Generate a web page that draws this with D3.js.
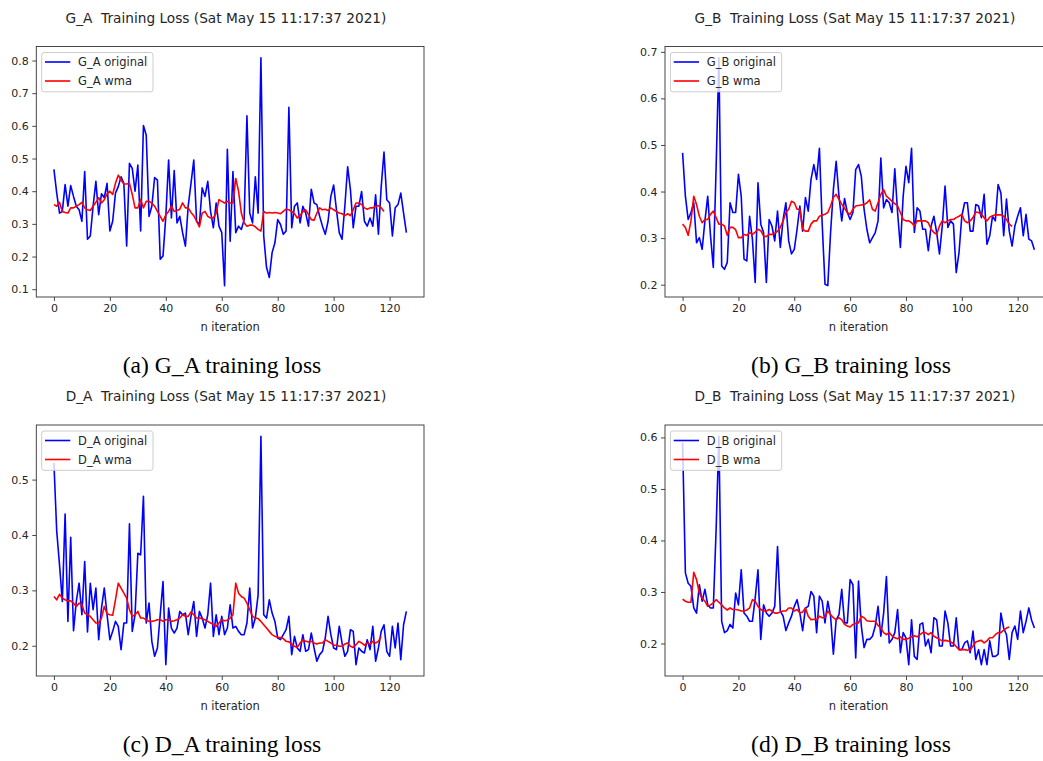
<!DOCTYPE html>
<html>
<head>
<meta charset="utf-8">
<script src="https://cdn.jsdelivr.net/npm/d3@7"></script>
<style>
  html, body { margin: 0; padding: 0; background: #fff; }
  svg { display: block; }
  text.pre { white-space: pre; }
</style>
</head>
<body>
<svg id="chart" width="1043" height="761"></svg>
<script>
// ---------------- DATA ----------------
const xTicks = [0, 20, 40, 60, 80, 100, 120];

const titleGA = "G_A  Training Loss (Sat May 15 11:17:37 2021)";
const titleGB = "G_B  Training Loss (Sat May 15 11:17:37 2021)";
const titleDA = "D_A  Training Loss (Sat May 15 11:17:37 2021)";
const titleDB = "D_B  Training Loss (Sat May 15 11:17:37 2021)";

const captionGA = "(a) G_A training loss";
const captionGB = "(b) G_B training loss";
const captionDA = "(c) D_A training loss";
const captionDB = "(d) D_B training loss";

const legendGA = ["G_A original", "G_A wma"];
const legendGB = ["G_B original", "G_B wma"];
const legendDA = ["D_A original", "D_A wma"];
const legendDB = ["D_B original", "D_B wma"];

const yTicksGA = [0.1, 0.2, 0.3, 0.4, 0.5, 0.6, 0.7, 0.8];
const yTicksGB = [0.2, 0.3, 0.4, 0.5, 0.6, 0.7];
const yTicksDA = [0.2, 0.3, 0.4, 0.5];
const yTicksDB = [0.2, 0.3, 0.4, 0.5, 0.6];

const xLabel = "n iteration";

const gaOriginal = [
  0.467, 0.394, 0.333, 0.338, 0.42, 0.354, 0.417, 0.384, 0.354, 0.343,
  0.308, 0.46, 0.253, 0.263, 0.354, 0.43, 0.328, 0.392, 0.38, 0.424,
  0.278, 0.308, 0.394, 0.414, 0.444, 0.424, 0.232, 0.485, 0.47, 0.4,
  0.48, 0.278, 0.601, 0.571, 0.323, 0.354, 0.442, 0.434, 0.192, 0.202,
  0.323, 0.495, 0.318, 0.463, 0.303, 0.323, 0.273, 0.232, 0.354, 0.424,
  0.495, 0.308, 0.298, 0.41, 0.384, 0.43, 0.338, 0.288, 0.364, 0.293,
  0.273, 0.111, 0.528, 0.247, 0.46, 0.273, 0.293, 0.283, 0.313, 0.631,
  0.333, 0.303, 0.444, 0.333, 0.808, 0.263, 0.167, 0.136, 0.212, 0.242,
  0.313, 0.298, 0.268, 0.278, 0.657, 0.288, 0.354, 0.364, 0.303, 0.354,
  0.333, 0.293, 0.406, 0.364, 0.359, 0.323, 0.293, 0.268, 0.308, 0.384,
  0.419, 0.343, 0.273, 0.253, 0.354, 0.475, 0.404, 0.288, 0.354, 0.354,
  0.399, 0.308, 0.293, 0.318, 0.293, 0.389, 0.268, 0.414, 0.52, 0.374,
  0.364, 0.263, 0.349, 0.359, 0.394, 0.333, 0.273
];
const gaWma = [
  0.359, 0.354, 0.366, 0.338, 0.335, 0.333, 0.349, 0.349, 0.354, 0.359,
  0.366, 0.349, 0.343, 0.341, 0.354, 0.366, 0.38, 0.364, 0.374, 0.392,
  0.4, 0.39, 0.424, 0.449, 0.434, 0.422, 0.422, 0.424, 0.39, 0.349,
  0.349, 0.374, 0.349, 0.369, 0.369, 0.364, 0.354, 0.338, 0.323, 0.308,
  0.328, 0.338, 0.354, 0.338, 0.341, 0.345, 0.364, 0.349, 0.349, 0.335,
  0.325, 0.308, 0.291, 0.333, 0.338, 0.323, 0.318, 0.318, 0.333, 0.374,
  0.369, 0.364, 0.369, 0.364, 0.364, 0.439, 0.4, 0.333, 0.303, 0.293,
  0.296, 0.296, 0.291, 0.283, 0.278, 0.338, 0.333, 0.335, 0.333, 0.335,
  0.333, 0.331, 0.338, 0.345, 0.343, 0.338, 0.331, 0.318, 0.325, 0.338,
  0.343, 0.328, 0.313, 0.311, 0.333, 0.349, 0.343, 0.345, 0.341, 0.349,
  0.343, 0.338, 0.333, 0.331, 0.325, 0.331, 0.325, 0.343, 0.364, 0.364,
  0.359, 0.349, 0.345, 0.349, 0.349, 0.354, 0.356, 0.349, 0.338
];

const gbOriginal = [
  0.483, 0.39, 0.34, 0.355, 0.376, 0.29, 0.301, 0.276, 0.337, 0.39,
  0.305, 0.237, 0.45, 0.687, 0.24, 0.233, 0.248, 0.376, 0.355, 0.355,
  0.437, 0.39, 0.255, 0.251, 0.347, 0.298, 0.205, 0.419, 0.33, 0.312,
  0.205, 0.34, 0.326, 0.294, 0.358, 0.28, 0.34, 0.376, 0.294, 0.266,
  0.276, 0.319, 0.369, 0.315, 0.387, 0.358, 0.426, 0.458, 0.426, 0.493,
  0.33, 0.201, 0.198, 0.312, 0.404, 0.465, 0.39, 0.337, 0.385, 0.355,
  0.34, 0.355, 0.447, 0.458, 0.433, 0.362, 0.319, 0.29, 0.301, 0.312,
  0.337, 0.472, 0.365, 0.383, 0.376, 0.355, 0.449, 0.355, 0.28, 0.39,
  0.454, 0.419, 0.493, 0.312, 0.365, 0.358, 0.319, 0.319, 0.273, 0.326,
  0.347, 0.312, 0.266, 0.326, 0.412, 0.323, 0.337, 0.33, 0.226, 0.269,
  0.347, 0.376, 0.376, 0.315, 0.315, 0.372, 0.369, 0.344, 0.394, 0.287,
  0.305, 0.347, 0.337, 0.415, 0.397, 0.305, 0.384, 0.315, 0.283, 0.326,
  0.347, 0.365, 0.305, 0.351, 0.298, 0.294, 0.275
];
const gbWma = [
  0.33, 0.323, 0.306, 0.337, 0.39, 0.372, 0.347, 0.333, 0.34, 0.34,
  0.351, 0.358, 0.344, 0.33, 0.33, 0.326, 0.306, 0.323, 0.323, 0.318,
  0.301, 0.301, 0.308, 0.306, 0.312, 0.308, 0.313, 0.319, 0.316, 0.305,
  0.303, 0.308, 0.308, 0.31, 0.315, 0.323, 0.337, 0.355, 0.362, 0.379,
  0.376, 0.362, 0.362, 0.319, 0.315, 0.315, 0.33, 0.337, 0.337, 0.347,
  0.349, 0.351, 0.355, 0.369, 0.387, 0.394, 0.383, 0.373, 0.364, 0.355,
  0.351, 0.362, 0.369, 0.37, 0.371, 0.372, 0.376, 0.382, 0.362, 0.358,
  0.376, 0.394, 0.404, 0.39, 0.385, 0.379, 0.374, 0.369, 0.355, 0.34,
  0.337, 0.337, 0.333, 0.326, 0.337, 0.337, 0.337, 0.337, 0.333, 0.319,
  0.312, 0.308, 0.326, 0.337, 0.333, 0.337, 0.34, 0.34, 0.344, 0.347,
  0.351, 0.337, 0.333, 0.337, 0.344, 0.356, 0.355, 0.351, 0.344, 0.337,
  0.345, 0.348, 0.35, 0.35, 0.35, 0.347, 0.34, 0.33, 0.325
];

const daOriginal = [
  0.53, 0.407, 0.346, 0.28, 0.438, 0.244, 0.396, 0.227, 0.28, 0.313,
  0.256, 0.352, 0.225, 0.313, 0.265, 0.304, 0.211, 0.268, 0.304, 0.256,
  0.211, 0.226, 0.244, 0.235, 0.193, 0.241, 0.241, 0.42, 0.226, 0.256,
  0.367, 0.364, 0.47, 0.241, 0.277, 0.208, 0.181, 0.196, 0.256, 0.316,
  0.166, 0.268, 0.232, 0.223, 0.232, 0.262, 0.256, 0.259, 0.22, 0.253,
  0.28, 0.217, 0.262, 0.25, 0.232, 0.256, 0.313, 0.217, 0.256, 0.22,
  0.253, 0.22, 0.232, 0.274, 0.232, 0.235, 0.226, 0.22, 0.22, 0.241,
  0.304, 0.232, 0.25, 0.292, 0.578, 0.256, 0.25, 0.283, 0.259, 0.244,
  0.214, 0.211, 0.22, 0.229, 0.253, 0.184, 0.217, 0.196, 0.19, 0.22,
  0.19, 0.193, 0.223, 0.196, 0.172, 0.184, 0.19, 0.214, 0.253, 0.22,
  0.196, 0.193, 0.235, 0.205, 0.181, 0.19, 0.229, 0.226, 0.166, 0.196,
  0.19, 0.187, 0.211, 0.193, 0.235, 0.172, 0.196, 0.226, 0.238, 0.19,
  0.181, 0.235, 0.196, 0.241, 0.175, 0.238, 0.262
];
const daWma = [
  0.289, 0.283, 0.293, 0.286, 0.283, 0.281, 0.281, 0.277, 0.271, 0.277,
  0.274, 0.259, 0.256, 0.253, 0.247, 0.241, 0.241, 0.25, 0.271, 0.258,
  0.256, 0.255, 0.283, 0.313, 0.304, 0.295, 0.286, 0.265, 0.253, 0.256,
  0.262, 0.25, 0.25, 0.247, 0.244, 0.244, 0.245, 0.247, 0.247, 0.244,
  0.247, 0.247, 0.244, 0.245, 0.247, 0.25, 0.256, 0.253, 0.253, 0.261,
  0.256, 0.25, 0.25, 0.249, 0.247, 0.244, 0.241, 0.239, 0.235, 0.241,
  0.247, 0.245, 0.246, 0.25, 0.256, 0.313, 0.295, 0.289, 0.286, 0.277,
  0.265, 0.253, 0.25, 0.249, 0.244, 0.238, 0.232, 0.226, 0.22, 0.217,
  0.215, 0.215, 0.213, 0.208, 0.207, 0.203, 0.199, 0.197, 0.205, 0.211,
  0.208, 0.207, 0.208, 0.205, 0.203, 0.205, 0.205, 0.211, 0.208, 0.205,
  0.201, 0.201, 0.199, 0.199, 0.203, 0.205, 0.199, 0.197, 0.202, 0.208,
  0.205, 0.201, 0.205, 0.203, 0.208, 0.205, 0.208, 0.217
];

const dbOriginal = [
  0.59, 0.337, 0.317, 0.311, 0.269, 0.259, 0.314, 0.282, 0.305, 0.275,
  0.269, 0.269, 0.42, 0.602, 0.243, 0.221, 0.225, 0.237, 0.23, 0.298,
  0.275, 0.343, 0.259, 0.253, 0.243, 0.243, 0.288, 0.343, 0.208, 0.275,
  0.259, 0.253, 0.259, 0.272, 0.388, 0.263, 0.253, 0.225, 0.24, 0.253,
  0.272, 0.285, 0.259, 0.225, 0.269, 0.272, 0.301, 0.292, 0.221, 0.292,
  0.282, 0.24, 0.282, 0.253, 0.179, 0.246, 0.256, 0.305, 0.24, 0.24,
  0.324, 0.314, 0.172, 0.321, 0.234, 0.192, 0.208, 0.208, 0.214, 0.234,
  0.272, 0.214, 0.259, 0.33, 0.201, 0.208, 0.221, 0.266, 0.182, 0.221,
  0.211, 0.159, 0.246, 0.175, 0.169, 0.237, 0.24, 0.195, 0.208, 0.182,
  0.25, 0.246, 0.195, 0.195, 0.263, 0.24, 0.195, 0.195, 0.25, 0.188,
  0.188, 0.201, 0.205, 0.182, 0.224, 0.169, 0.188, 0.159, 0.188, 0.159,
  0.205, 0.175, 0.175, 0.179, 0.259, 0.23, 0.217, 0.169, 0.221, 0.234,
  0.208, 0.263, 0.221, 0.243, 0.269, 0.245, 0.23
];
const dbWma = [
  0.286, 0.282, 0.28, 0.28, 0.338, 0.324, 0.298, 0.288, 0.282, 0.272,
  0.275, 0.279, 0.285, 0.28, 0.275, 0.269, 0.265, 0.269, 0.266, 0.266,
  0.265, 0.263, 0.263, 0.265, 0.269, 0.285, 0.282, 0.272, 0.266, 0.263,
  0.263, 0.266, 0.263, 0.259, 0.259, 0.261, 0.263, 0.263, 0.269, 0.269,
  0.263, 0.266, 0.259, 0.261, 0.269, 0.253, 0.246, 0.247, 0.246, 0.253,
  0.25, 0.25, 0.263, 0.256, 0.25, 0.246, 0.25, 0.246, 0.237, 0.234,
  0.232, 0.237, 0.239, 0.24, 0.253, 0.25, 0.244, 0.243, 0.243, 0.243,
  0.235, 0.23, 0.221, 0.217, 0.221, 0.215, 0.211, 0.209, 0.213, 0.208,
  0.208, 0.21, 0.213, 0.215, 0.213, 0.217, 0.221, 0.221, 0.217, 0.221,
  0.214, 0.211, 0.208, 0.205, 0.206, 0.205, 0.203, 0.2, 0.194, 0.188,
  0.188, 0.188, 0.187, 0.188, 0.195, 0.203, 0.205, 0.206, 0.201, 0.205,
  0.211, 0.211, 0.217, 0.221, 0.221, 0.226, 0.23, 0.232
];

// ---------------- LAYOUT ----------------
const SANS = "'DejaVu Sans', sans-serif";
const SERIF = "'Liberation Serif', 'Times New Roman', serif";
const TXT = "#262626";

const panels = [
  { orig: gaOriginal, wma: gaWma, title: titleGA, legend: legendGA, yTicks: yTicksGA, caption: captionGA,
    left: 36.3, right: 424, top: 46.5, bottom: 297, titleX: 226, captionX: 222 },
  { orig: gbOriginal, wma: gbWma, title: titleGB, legend: legendGB, yTicks: yTicksGB, caption: captionGB,
    left: 665, right: 1052, top: 46.5, bottom: 297, titleX: 855, captionX: 851 },
  { orig: daOriginal, wma: daWma, title: titleDA, legend: legendDA, yTicks: yTicksDA, caption: captionDA,
    left: 36.3, right: 424, top: 425, bottom: 676, titleX: 226, captionX: 222 },
  { orig: dbOriginal, wma: dbWma, title: titleDB, legend: legendDB, yTicks: yTicksDB, caption: captionDB,
    left: 665, right: 1052, top: 425, bottom: 676, titleX: 855, captionX: 851 }
];

const svg = d3.select("#chart");

panels.forEach((p, k) => {
  const g = svg.append("g");
  const n = p.orig.length;
  const xPad = (n - 1) * 0.05;
  const x = d3.scaleLinear().domain([-xPad, (n - 1) + xPad]).range([p.left, p.right]);
  const all = p.orig.concat(p.wma);
  const ymin = d3.min(all), ymax = d3.max(all);
  const yPad = (ymax - ymin) * 0.05;
  const y = d3.scaleLinear().domain([ymin - yPad, ymax + yPad]).range([p.bottom, p.top]);

  const clipId = "clip" + k;
  g.append("clipPath").attr("id", clipId).append("rect")
    .attr("x", p.left).attr("y", p.top).attr("width", p.right - p.left).attr("height", p.bottom - p.top);

  const line = d3.line().x((d, i) => x(i)).y(d => y(d));

  const plot = g.append("g").attr("clip-path", `url(#${clipId})`);
  plot.append("path").datum(p.orig).attr("d", line)
    .attr("fill", "none").attr("stroke", "#0000ff").attr("stroke-width", 1.6).attr("stroke-linejoin", "round");
  plot.append("path").datum(p.wma).attr("d", line)
    .attr("fill", "none").attr("stroke", "#ff0000").attr("stroke-width", 1.6).attr("stroke-linejoin", "round");

  // axes
  const xAxis = d3.axisBottom(x).tickValues(xTicks).tickSizeOuter(0).tickSize(4).tickPadding(3.5);
  const gx = g.append("g").attr("transform", `translate(0,${p.bottom})`).call(xAxis);
  gx.select(".domain").remove();
  gx.selectAll("line").attr("stroke", "#333").attr("stroke-width", 0.9);
  gx.selectAll("text").attr("font-family", SANS).attr("font-size", 11).attr("fill", TXT);

  const yAxis = d3.axisLeft(y).tickValues(p.yTicks).tickFormat(d3.format(".1f")).tickSizeOuter(0).tickSize(4).tickPadding(3.5);
  const gy = g.append("g").attr("transform", `translate(${p.left},0)`).call(yAxis);
  gy.select(".domain").remove();
  gy.selectAll("line").attr("stroke", "#333").attr("stroke-width", 0.9);
  gy.selectAll("text").attr("font-family", SANS).attr("font-size", 11).attr("fill", TXT);

  // frame
  g.append("rect").attr("x", p.left).attr("y", p.top)
    .attr("width", p.right - p.left).attr("height", p.bottom - p.top)
    .attr("fill", "none").attr("stroke", "#333").attr("stroke-width", 0.9);

  // x label
  g.append("text").attr("x", x(63)).attr("y", p.bottom + 34)
    .attr("text-anchor", "middle").attr("font-family", SANS).attr("font-size", 11.5).attr("fill", TXT)
    .text(xLabel);

  // title
  g.append("text").attr("class", "pre").attr("xml:space", "preserve")
    .attr("x", p.titleX).attr("y", p.top - 24)
    .attr("text-anchor", "middle").attr("font-family", SANS).attr("font-size", 13.7).attr("fill", TXT)
    .text(p.title);

  // legend
  const lx = p.left + 5.4, ly = p.top + 6;
  const lg = g.append("g");
  lg.append("rect").attr("x", lx).attr("y", ly).attr("width", 111.3).attr("height", 39.3)
    .attr("rx", 2.5).attr("fill", "#fff").attr("fill-opacity", 0.8)
    .attr("stroke", "#cccccc").attr("stroke-width", 1);
  const colors = ["#0000ff", "#ff0000"];
  p.legend.forEach((name, i) => {
    const cy = ly + 9.5 + i * 19;
    lg.append("line").attr("x1", lx + 3.3).attr("x2", lx + 28.6).attr("y1", cy).attr("y2", cy)
      .attr("stroke", colors[i]).attr("stroke-width", 1.6);
    lg.append("text").attr("x", lx + 36.4).attr("y", cy).attr("dy", "0.36em")
      .attr("font-family", SANS).attr("font-size", 11.5).attr("fill", TXT).text(name);
  });

  // caption
  g.append("text").attr("x", p.captionX).attr("y", p.bottom + 76)
    .attr("text-anchor", "middle").attr("font-family", SERIF).attr("font-size", 23.6).attr("fill", "#000")
    .text(p.caption);
});
</script>
</body>
</html>
